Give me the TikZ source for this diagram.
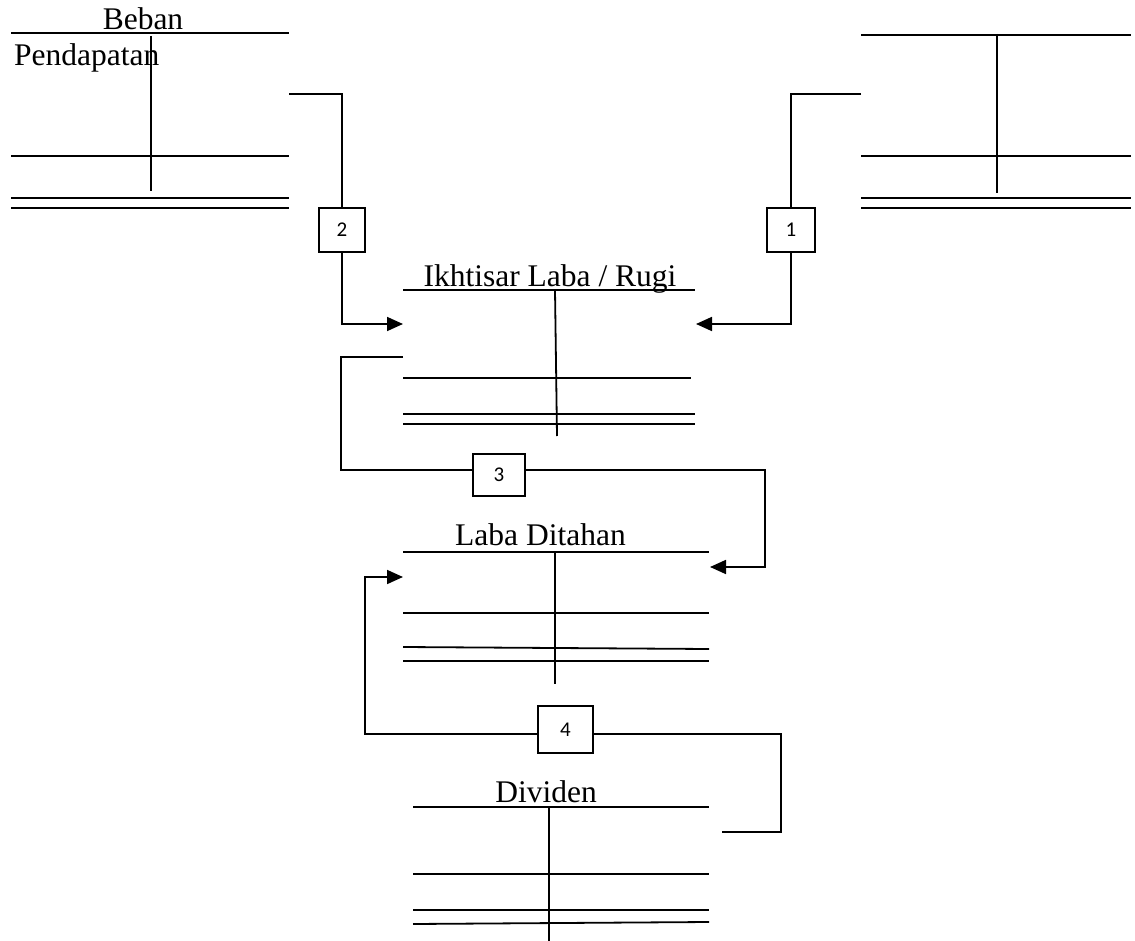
\documentclass[tikz,border=0pt]{standalone}
\usepackage{fontspec}
\setmainfont{Liberation Serif}
\newfontfamily\numfont{Carlito}
\usetikzlibrary{arrows.meta}
\begin{document}
\begin{tikzpicture}[x=1pt,y=-1pt,
  ln/.style={line width=1.8pt},
  arr/.style={line width=1.8pt,-{Triangle[length=16pt,width=14pt]}},
  numbox/.style={draw,line width=1.8pt,inner sep=0pt,font=\numfont\fontsize{21}{24}\selectfont},
  acct/.style={anchor=base,inner sep=0pt,font=\fontsize{31.5}{38}\selectfont}]
\useasboundingbox (0,0) rectangle (1135,941);
% --- Beban / Pendapatan account
\node[acct] (beban) at (143,30) {Beban};
\node[acct,anchor=base west] (pend) at (14,66) {Pendapatan};
\draw[ln] (11,33) -- (289,33);
\draw[ln] (151,36) -- (151,191);
\draw[ln] (11,156) -- (289,156);
\draw[ln] (11,198) -- (289,198);
\draw[ln] (11,208) -- (289,208);
% --- right top account
\draw[ln] (861,35) -- (1131,35);
\draw[ln] (997,34) -- (997,193);
\draw[ln] (861,156) -- (1131,156);
\draw[ln] (861,198) -- (1131,198);
\draw[ln] (861,208) -- (1131,208);
% --- Ikhtisar Laba / Rugi
\node[acct] (ikh) at (550,287) {Ikhtisar Laba / Rugi};
\draw[ln] (403,290) -- (695,290);
\draw[ln] (555,290) -- (557,436);
\draw[ln] (403,378) -- (691,378);
\draw[ln] (403,414) -- (695,414);
\draw[ln] (403,424) -- (695,424);
% --- Laba Ditahan
\node[acct] (ld) at (540.5,545) {Laba Ditahan};
\draw[ln] (403,552) -- (709,552);
\draw[ln] (555,552) -- (555,684);
\draw[ln] (403,613) -- (709,613);
\draw[ln] (403,647) -- (709,649);
\draw[ln] (403,661) -- (709,661);
% --- Dividen
\node[acct] (div) at (546,802) {Dividen};
\draw[ln] (413,807) -- (709,807);
\draw[ln] (549,807) -- (549,941);
\draw[ln] (413,874) -- (709,874);
\draw[ln] (413,910) -- (709,910);
\draw[ln] (413,924) -- (709,922);
% --- number boxes
\node[numbox,minimum width=46pt,minimum height=44pt] (b2) at (342,230) {2};
\node[numbox,minimum width=48pt,minimum height=44pt] (b1) at (791,230) {1};
\node[numbox,minimum width=52pt,minimum height=42pt] (b3) at (499,475) {3};
\node[numbox,minimum width=55pt,minimum height=47pt] (b4) at (565.5,729.5) {4};
% --- connector coordinates
\coordinate (s2) at (289,94);
\coordinate (t2) at (403,324);
\coordinate (s1) at (861,94);
\coordinate (t1) at (696,324);
\coordinate (s3) at (403,357);
\coordinate (k3) at (341,470);
\coordinate (j3) at (765,567);
\coordinate (t3) at (710,567);
\coordinate (k4) at (538,734);
\coordinate (j4) at (365,577);
\coordinate (t4) at (403,577);
\coordinate (r4) at (781,832);
\coordinate (e4) at (722,832);
% --- connectors
\draw[ln] (s2) -| (b2.north);
\draw[arr] (b2.south) |- (t2);
\draw[ln] (s1) -| (b1.north);
\draw[arr] (b1.south) |- (t1);
\draw[ln] (s3) -| (k3) -- (k3 -| b3.west);
\draw[arr] (k3 -| b3.east) -| (j3) -- (t3);
\draw[arr] (k4 -| b4.west) -| (j4) -- (t4);
\draw[ln] (k4 -| b4.east) -| (r4) -- (e4);
\end{tikzpicture}
\end{document}
